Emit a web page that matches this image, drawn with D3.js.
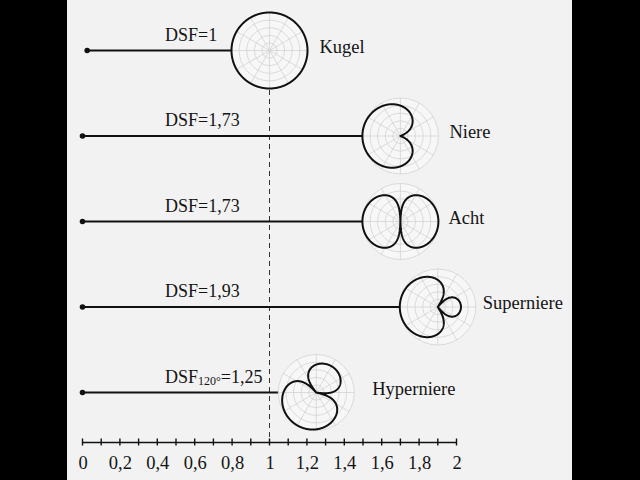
<!DOCTYPE html>
<html><head><meta charset="utf-8">
<script src="https://cdn.jsdelivr.net/npm/d3@7"></script>
<style>
html,body{margin:0;padding:0;background:#000;}
svg{display:block;}
text{font-family:"Liberation Serif","DejaVu Serif",serif;fill:#141414;}
</style></head>
<body>
<script>
// ---- data ----
const names = ["Kugel", "Niere", "Acht", "Superniere", "Hyperniere"];
const dsfValues = [1, 1.73, 1.73, 1.93, 1.25];
const dsfSubscripts = ["", "", "", "", "120°"];
const centerValues = [1.0, 1.70, 1.70, 1.90, 1.25];   // where each polar diagram sits on the axis
const lineStartValues = [0.025, 0, 0, 0, 0];
const omniShare = [1, 0.5, 0, 0.37, 0.25];            // a in a + (1-a)·cos θ
const mainAxisDeg = [270, 270, 270, 270, 210];         // direction of main lobe
const tickLabels = [0, 0.2, 0.4, 0.6, 0.8, 1, 1.2, 1.4, 1.6, 1.8, 2];
const minorTicks = [0, 0.1, 0.2, 0.3, 0.4, 0.5, 0.6, 0.7, 0.8, 0.9, 1, 1.1, 1.2, 1.3, 1.4, 1.5, 1.6, 1.7, 1.8, 1.9, 2];
const gridDb = [-24, -18, -12, -6, 0];
const gridSpokesDeg = [0, 30, 60, 90, 120, 150, 180, 210, 240, 270, 300, 330];

const W = 640, H = 480;
const nameGap = [50, 49, 48, 45, 56];  // layout: gap from diagram centre to its name

const svg = d3.select("body").append("svg").attr("width", W).attr("height", H);
svg.append("rect").attr("x", 0).attr("y", 0).attr("width", W).attr("height", H).attr("fill", "#000");
svg.append("rect").attr("x", 67).attr("y", 0).attr("width", 505).attr("height", H).attr("fill", "#f2f2f2");

const x = d3.scaleLinear().domain([0, 2]).range([82.5, 456.5]);
const y = d3.scalePoint().domain(names).range([50.5, 392.5]);
const rScale = d3.scaleLinear().domain([-30, 0]).range([0, 38]).clamp(true);
const axisY = 442;

const fmt = v => String(v).replace(".", ",");
const rad = d => d * Math.PI / 180;

function radiusAt(a, angDeg, axisDeg) {
  const g = a + (1 - a) * Math.cos(rad(angDeg - axisDeg));
  const db = 20 * Math.log10(Math.max(Math.abs(g), 1e-6));
  return rScale(db);
}

// dashed reference line at x = 1
svg.append("line")
  .attr("x1", x(1)).attr("x2", x(1))
  .attr("y1", 90).attr("y2", axisY)
  .attr("stroke", "#333").attr("stroke-width", 1)
  .attr("stroke-dasharray", "5,4");

const rows = names.map((n, i) => ({
  name: n, dsf: dsfValues[i], sub: dsfSubscripts[i], c: centerValues[i],
  start: lineStartValues[i], a: omniShare[i], ax: mainAxisDeg[i], gap: nameGap[i]
}));

const lineRadial = d3.lineRadial()
  .angle(d => rad(d[0])).radius(d => d[1])
  .curve(d3.curveLinearClosed);

const g = svg.selectAll("g.row").data(rows).enter().append("g").attr("class", "row");

// horizontal line + dot
g.append("line")
  .attr("x1", d => x(d.start))
  .attr("x2", d => x(d.c) - radiusAt(d.a, 270, d.ax))
  .attr("y1", d => y(d.name)).attr("y2", d => y(d.name))
  .attr("stroke", "#111").attr("stroke-width", 2);
g.append("circle")
  .attr("cx", d => x(d.start)).attr("cy", d => y(d.name))
  .attr("r", 2.8).attr("fill", "#111");

// polar diagrams
const pg = g.append("g").attr("transform", d => `translate(${x(d.c)},${y(d.name)})`);
pg.append("circle").attr("r", rScale(0)).attr("fill", "#f7f7f7").attr("stroke", "none");
pg.selectAll("circle.ring").data(gridDb).enter().append("circle")
  .attr("class", "ring").attr("r", d => rScale(d))
  .attr("fill", "none").attr("stroke", "#cfcfcf").attr("stroke-width", 0.7);
pg.selectAll("line.spoke").data(gridSpokesDeg).enter().append("line")
  .attr("class", "spoke")
  .attr("x1", 0).attr("y1", 0)
  .attr("x2", d => rScale(0) * Math.sin(rad(d)))
  .attr("y2", d => -rScale(0) * Math.cos(rad(d)))
  .attr("stroke", "#cfcfcf").attr("stroke-width", 0.7);
pg.append("path")
  .attr("d", d => lineRadial(d3.range(0, 360, 0.5).map(t => [t, radiusAt(d.a, t, d.ax)])))
  .attr("fill", "none").attr("stroke", "#111").attr("stroke-width", 2)
  .attr("stroke-linejoin", "round");

// DSF labels
const lab = g.append("text")
  .attr("x", 165).attr("y", d => y(d.name) - 10)
  .attr("font-size", 18);
lab.append("tspan").text("DSF");
lab.filter(d => d.sub).append("tspan")
  .attr("font-size", 12).attr("dy", 2).text(d => d.sub);
lab.append("tspan").attr("dy", d => d.sub ? -2 : 0).text(d => "=" + fmt(d.dsf));

// name labels
g.append("text")
  .attr("x", d => x(d.c) + d.gap).attr("y", d => y(d.name) + 2)
  .attr("font-size", 18.5).text(d => d.name);

// axis
const axG = svg.append("g").attr("transform", `translate(0,${axisY})`);
axG.call(d3.axisBottom(x).tickValues(tickLabels).tickSize(0).tickPadding(14).tickFormat(fmt));
axG.select(".domain").attr("stroke", "#111").attr("stroke-width", 1.6);
axG.selectAll(".tick text")
  .attr("font-family", '"Liberation Serif","DejaVu Serif",serif')
  .attr("font-size", 18.5).attr("fill", "#141414");
axG.selectAll("line.minor").data(minorTicks).enter().append("line")
  .attr("class", "minor")
  .attr("x1", d => x(d)).attr("x2", d => x(d))
  .attr("y1", -3.5).attr("y2", 3.5)
  .attr("stroke", "#111").attr("stroke-width", 1.4);
</script>
</body></html>
